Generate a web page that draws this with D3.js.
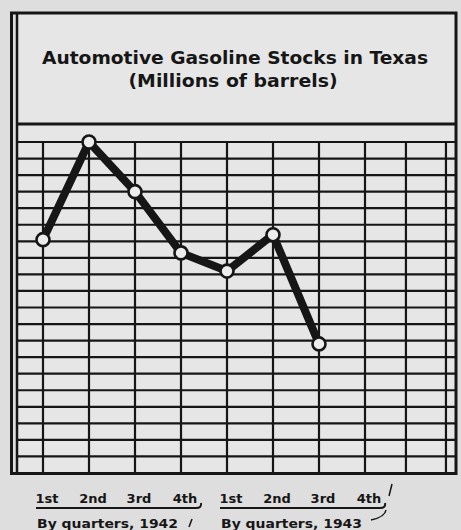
<!DOCTYPE html>
<html><head><meta charset="utf-8">
<script src="https://cdn.jsdelivr.net/npm/d3@7"></script>
<style>
html,body{margin:0;padding:0;background:#dedede;}
svg{display:block;}
text{font-family:"DejaVu Sans","Liberation Sans",Arial,sans-serif;font-weight:bold;fill:#161616;}
</style></head>
<body>
<script>
// ---- data ----
const title = "Automotive Gasoline Stocks in Texas";
const subtitle = "(Millions of barrels)";
const quarters = ["1st","2nd","3rd","4th","1st","2nd","3rd","4th"];
const yearLabels = ["By quarters, 1942", "By quarters, 1943"];
// stocks in grid units (millions of barrels, unlabeled scale), 1st qtr 1942 .. 3rd qtr 1943
const values = [14.1, 20.0, 17.0, 13.3, 12.2, 14.4, 7.8];
const yTicks = d3.range(0, 21, 1);
const extraColumns = [7.89, 8.76];   // ruled columns beyond the last quarter

const W = 461, H = 530, ink = "#161616";
const svg = d3.select("body").append("svg").attr("width", W).attr("height", H);

// paper tint
svg.append("rect").attr("width", W).attr("height", H).attr("fill", "#dedede");
svg.append("rect").attr("x", 17).attr("y", 13).attr("width", 439).attr("height", 460).attr("fill", "#e6e6e6");

const x = d3.scaleLinear().domain([0, 7]).range([43, 365]);
const y = d3.scaleLinear().domain([0, 20]).range([473, 142]);

const gridLeft = 17, gridRight = 456;

// horizontal grid
svg.append("g").selectAll("line").data(yTicks).join("line")
  .attr("x1", gridLeft).attr("x2", gridRight)
  .attr("y1", d => y(d)).attr("y2", d => y(d))
  .attr("stroke", ink).attr("stroke-width", 2.2);

// vertical grid
const cols = d3.range(quarters.length).concat(extraColumns);
svg.append("g").selectAll("line").data(cols).join("line")
  .attr("x1", d => x(d)).attr("x2", d => x(d))
  .attr("y1", y(20)).attr("y2", y(0))
  .attr("stroke", ink).attr("stroke-width", 2.2);

// frame
svg.append("rect").attr("x", 11.5).attr("y", 13).attr("width", 444.5).attr("height", 460.5)
  .attr("fill", "none").attr("stroke", ink).attr("stroke-width", 3);
svg.append("line").attr("x1", 17).attr("x2", 17).attr("y1", 13).attr("y2", 474)
  .attr("stroke", ink).attr("stroke-width", 2.5);
// title divider
svg.append("line").attr("x1", 17).attr("x2", gridRight).attr("y1", 124).attr("y2", 124)
  .attr("stroke", ink).attr("stroke-width", 3);

// titles
svg.append("text").attr("x", 235).attr("y", 64).attr("text-anchor", "middle")
  .attr("font-size", 18).attr("textLength", 386).attr("lengthAdjust", "spacingAndGlyphs").text(title);
svg.append("text").attr("x", 233).attr("y", 87).attr("text-anchor", "middle")
  .attr("font-size", 18).attr("textLength", 209).attr("lengthAdjust", "spacingAndGlyphs").text(subtitle);

// line
const line = d3.line().x((d, i) => x(i)).y(d => y(d));
svg.append("path").datum(values).attr("d", line)
  .attr("fill", "none").attr("stroke", ink).attr("stroke-width", 8)
  .attr("stroke-linejoin", "round").attr("stroke-linecap", "round");
svg.append("g").selectAll("circle").data(values).join("circle")
  .attr("cx", (d, i) => x(i)).attr("cy", d => y(d)).attr("r", 6.5)
  .attr("fill", "#ececec").attr("stroke", ink).attr("stroke-width", 2.6);

// quarter labels
svg.append("g").selectAll("text").data(quarters).join("text")
  .attr("x", (d, i) => x(i) + 4).attr("y", 503).attr("text-anchor", "middle")
  .attr("font-size", 13).text(d => d);

// underlines for each year group
yearLabels.forEach((lab, k) => {
  const x0 = x(k * 4) - 7, x1 = x(k * 4 + 3) + 19;
  svg.append("path")
    .attr("d", `M${x0},508 L${x1 - 4},508 Q${x1 + 2},508 ${x1 + 1},503`)
    .attr("fill", "none").attr("stroke", ink).attr("stroke-width", 2);
  svg.append("text").attr("x", x0 + 1).attr("y", 528).attr("font-size", 13)
    .attr("textLength", 141).attr("lengthAdjust", "spacingAndGlyphs").text(lab);
});
// small stray pen marks
svg.append("path").attr("d", `M${x(3) + 8},527 L${x(3) + 11},519`)
  .attr("stroke", ink).attr("stroke-width", 1.5).attr("fill", "none");
svg.append("path").attr("d", `M${x(7) + 27},484 L${x(7) + 24},496 M${x(7) + 21},510 Q${x(7) + 20},517 ${x(7) + 6},520`)
  .attr("stroke", ink).attr("stroke-width", 1.5).attr("fill", "none");
</script>
</body></html>
